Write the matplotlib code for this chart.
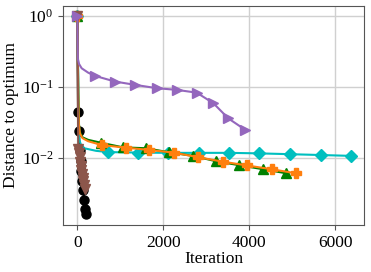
import numpy as np
import matplotlib
matplotlib.use("Agg")
import matplotlib.pyplot as plt

plt.rcParams['font.family'] = ['Liberation Serif', 'DejaVu Serif']
plt.rcParams['mathtext.fontset'] = 'stix'

# black circles
black_x = [0, 15, 35, 55, 75, 95, 115, 135, 160, 185, 205]
black_y = [1.0, 0.045, 0.024, 0.013, 0.009, 0.0065, 0.0048, 0.0035, 0.0026, 0.0019, 0.0016]

# cyan diamonds
cyan_x = [0, 30, 45, 80, 160, 435, 712, 1419, 2116, 2823, 3535, 4233, 4947, 5660, 6358]
cyan_y = [1.0, 0.05, 0.018, 0.0155, 0.0137, 0.0126, 0.0121, 0.0119, 0.0118, 0.0118,
          0.0118, 0.0116, 0.0113, 0.0110, 0.0107]
cyan_marks = [0, 6, 7, 8, 9, 10, 11, 12, 13, 14]

# green triangles up
green_x = [0, 20, 35, 60, 120, 250, 544, 1063, 1600, 2139, 2684, 3223, 3767, 4312, 4847]
green_y = [1.0, 0.08, 0.03, 0.023, 0.0195, 0.018, 0.0164, 0.0141, 0.0137, 0.0120,
           0.0107, 0.0090, 0.0079, 0.00695, 0.0061]
green_marks = [0, 6, 7, 8, 9, 10, 11, 12, 13, 14]

# orange plus
orange_x = [0, 20, 35, 60, 120, 250, 567, 1121, 1674, 2242, 2814, 3381, 3947, 4521, 5074]
orange_y = [1.0, 0.08, 0.03, 0.022, 0.019, 0.0172, 0.0152, 0.01396, 0.01297, 0.01188,
            0.01023, 0.00887, 0.00784, 0.00693, 0.0061]
orange_marks = [0, 6, 7, 8, 9, 10, 11, 12, 13, 14]

# brown triangles down
brown_x = [0, 20, 35, 50, 65, 80, 95, 110, 125, 140, 155, 170]
brown_y = [1.0, 0.0135, 0.0118, 0.0102, 0.0088, 0.0077, 0.0068, 0.006, 0.0053,
           0.0047, 0.0041, 0.0036]

# purple triangles right
purple_x = [0, 5, 10, 40, 100, 250, 412, 877, 1342, 1847, 2312, 2777, 3163, 3512, 3900]
purple_y = [1.0, 0.4, 0.25, 0.21, 0.183, 0.159, 0.143, 0.119, 0.107, 0.096, 0.091,
            0.083, 0.059, 0.036, 0.025]
purple_marks = [0, 6, 7, 8, 9, 10, 11, 12, 13, 14]

fig = plt.figure(figsize=(3.71, 2.72), dpi=100)
ax = fig.add_axes([0.170, 0.173, 0.812, 0.805])

ms = 6.5
lw = 1.5
ax.plot(black_x, black_y, color='k', marker='o', ms=ms, lw=lw)
ax.plot(cyan_x, cyan_y, color='c', marker='D', ms=ms, lw=lw, markevery=cyan_marks)
ax.plot(green_x, green_y, color='green', marker='^', ms=ms, lw=lw, markevery=green_marks)
ax.plot(orange_x, orange_y, color='tab:orange', marker='P', ms=ms + 1, lw=lw, markevery=orange_marks)
ax.plot(brown_x, brown_y, color='tab:brown', marker='v', ms=ms, lw=lw)
ax.plot(purple_x, purple_y, color='tab:purple', marker='>', ms=ms, lw=lw, markevery=purple_marks)

ax.set_yscale('log')
ax.set_xlim(-333, 6674)
ax.set_ylim(1.14e-3, 1.38)
ax.set_xticks([0, 2000, 4000, 6000])
ax.set_yticks([1, 0.1, 0.01])
ax.minorticks_off()
ax.grid(True, color='#d0d0d0', lw=1.0)
ax.set_axisbelow(True)
for s in ax.spines.values():
    s.set_color('#555555')
ax.tick_params(labelsize=12.5, color='#555555', length=3.5)
ax.set_xlabel("Iteration", fontsize=12.5, labelpad=0)
ax.set_ylabel("Distance to optimum", fontsize=12.5, labelpad=2)

fig.savefig("out.png", dpi=100)
